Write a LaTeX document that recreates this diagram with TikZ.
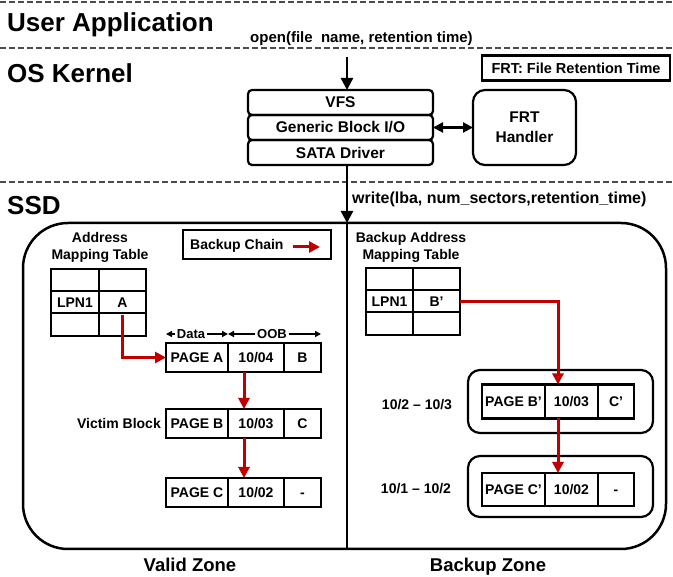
\documentclass[tikz,border=0pt]{standalone}
\usepackage{fontspec}
\setmainfont{Liberation Sans}
\usetikzlibrary{positioning,arrows.meta}
\definecolor{chainred}{HTML}{C00000}
\tikzset{
  zonesep/.style={line width=1.3pt,black!70,dash pattern=on 6pt off 3pt},
  heading/.style={font=\bfseries\fontsize{26}{30}\selectfont,inner sep=0pt},
  lbl/.style={font=\bfseries\fontsize{14}{17}\selectfont,inner sep=0pt},
  cell/.style={draw,line width=2.2pt,inner sep=0pt,outer sep=0pt,text height=10pt,text depth=0pt,
    font=\bfseries\fontsize{14}{17}\selectfont},
  tcell/.style={cell,minimum width=47.5pt,minimum height=22.3pt},
  stack/.style={draw,line width=2.2pt,rounded corners=4pt,minimum width=185pt,minimum height=25pt,
    inner sep=0pt,outer sep=0pt,font=\bfseries\fontsize{15.5}{18}\selectfont},
  rbox/.style={draw,line width=2.2pt,rounded corners=12pt,inner sep=0pt,outer sep=0pt},
  flow/.style={-{Triangle[length=12pt,width=12pt]},line width=2.5pt},
  chainarr/.style={-{Triangle[length=11pt,width=11pt]},line width=3pt,chainred},
  dimarr/.style={-{Triangle[length=6pt,width=6pt]},line width=1.8pt},
}
\begin{document}
\begin{tikzpicture}[x=1pt,y=-1pt]
  \useasboundingbox (0,0) rectangle (673,577);
  % layer separators
  \foreach \yy in {2,48,182} \draw[zonesep] (0,\yy) -- (673,\yy);
  \node[heading,anchor=base west] (ua) at (7,32) {User Application};
  \node[heading,anchor=base west] (osk) at (7,83) {OS Kernel};
  \node[heading,anchor=base west] (ssdl) at (7,215) {SSD};
  \node[lbl,font=\bfseries\fontsize{15}{18}\selectfont,anchor=base west] (opencall) at (250,43)
    {open(file\ \ name, retention time)};

  % kernel stack
  \coordinate (spine) at (347,0);
  \coordinate (opentop) at (347,57);
  \node[stack] (vfs) at (340.5,102.5) {VFS};
  \node[stack,below=0pt of vfs] (gbio) {Generic Block I/O};
  \node[stack,below=0pt of gbio] (sata) {SATA Driver};
  \draw[flow] (opentop) -- (spine |- vfs.north);
  \node[rbox,minimum width=103pt,minimum height=75pt,align=center,
    font=\bfseries\fontsize{15.5}{20}\selectfont] (frth) at (524.5,127.5) {FRT\\Handler};
  \draw[{Triangle[length=10pt,width=10pt]}-{Triangle[length=10pt,width=10pt]},line width=2.2pt]
    (gbio.east) -- (frth.west);
  \node[lbl,draw,line width=2.2pt,minimum width=188pt,minimum height=25pt,
    font=\bfseries\fontsize{14.5}{17}\selectfont] (frtkey) at (576,68) {FRT: File Retention Time};

  % SSD
  \node[draw,line width=2.5pt,rounded corners=45pt,minimum width=643pt,minimum height=326pt,
    outer sep=0pt] (ssd) at (344.5,386) {};
  \draw[flow] (spine |- sata.south) -- (spine |- ssd.north);
  \draw[line width=2.2pt] (spine |- ssd.north) -- (spine |- ssd.south);
  \node[lbl,font=\bfseries\fontsize{16}{18}\selectfont,anchor=base west] (writecall) at (352,204)
    {write(lba, num\_sectors,retention\_time)};

  % valid zone
  \node[lbl,align=center] (amtl) at (100,247.5) {Address\\Mapping Table};
  \foreach \r/\yy in {1/280,3/324.5}
    \foreach \c/\xx in {1/75,2/122.5}
      \node[tcell] (amt\r\c) at (\xx,\yy) {};
  \node[tcell] (amt21) at (75,302.2) {LPN1};
  \node[tcell] (amt22) at (122.5,302.2) {A};

  \node[draw,line width=2.2pt,minimum width=148pt,minimum height=29pt] (bckey) at (257,244.5) {};
  \node[lbl,anchor=base west] (bctxt) at (190,250) {Backup Chain};
  \coordinate (bcs) at (293,247);
  \coordinate (bce) at (320,247);
  \draw[chainarr] (bcs) -- (bce);

  \node[cell,minimum width=62pt,minimum height=29pt] (pa1) at (197,357.5) {PAGE A};
  \node[cell,minimum width=56pt,minimum height=29pt,right=0pt of pa1] (pa2) {10/04};
  \node[cell,minimum width=37pt,minimum height=29pt,right=0pt of pa2] (pa3) {B};
  \node[cell,minimum width=62pt,minimum height=29pt] (pb1) at (197,423.5) {PAGE B};
  \node[cell,minimum width=56pt,minimum height=29pt,right=0pt of pb1] (pb2) {10/03};
  \node[cell,minimum width=37pt,minimum height=29pt,right=0pt of pb2] (pb3) {C};
  \node[cell,minimum width=62pt,minimum height=29pt] (pc1) at (197,492.5) {PAGE C};
  \node[cell,minimum width=56pt,minimum height=29pt,right=0pt of pc1] (pc2) {10/02};
  \node[cell,minimum width=37pt,minimum height=29pt,right=0pt of pc2] (pc3) {-};

  \node[lbl,font=\bfseries\fontsize{13}{15}\selectfont] (datal) at (191,334) {Data};
  \node[lbl,font=\bfseries\fontsize{13}{15}\selectfont] (oobl) at (272,334) {OOB};
  \draw[dimarr,shorten <=1.5pt] (datal.west) -- (datal.west -| pa1.west);
  \draw[dimarr,shorten <=1.5pt] (datal.east) -- (datal.east -| pa1.east);
  \draw[dimarr,shorten <=1.5pt] (oobl.west) -- (oobl.west -| pa2.west);
  \draw[dimarr,shorten <=1.5pt] (oobl.east) -- (oobl.east -| pa3.east);
  \node[lbl,anchor=east] (victim) at (161,423) {Victim Block};

  \coordinate (vchain) at (244,0);
  \draw[chainarr] ([yshift=-1.5pt]amt22.south) |- (pa1.west);
  \draw[chainarr] (vchain |- pa2.south) -- (vchain |- pb2.north);
  \draw[chainarr] (vchain |- pb2.south) -- (vchain |- pc2.north);

  % backup zone
  \node[lbl,align=center] (bamtl) at (411,247.5) {Backup Address\\Mapping Table};
  \foreach \r/\yy in {1/279,3/323.5}
    \foreach \c/\xx in {1/389.5,2/436.5}
      \node[tcell] (bmt\r\c) at (\xx,\yy) {};
  \node[tcell] (bmt21) at (389.5,301.2) {LPN1};
  \node[tcell] (bmt22) at (436.5,301.2) {B’};

  \node[rbox,minimum width=185pt,minimum height=63pt] (bbox1) at (560.5,401.5) {};
  \node[rbox,minimum width=185pt,minimum height=61pt] (bbox2) at (560.5,486.5) {};
  \node[cell,minimum width=63pt,minimum height=34pt] (pbb1) at (513.5,401.5) {PAGE B’};
  \node[cell,minimum width=53pt,minimum height=34pt,right=0pt of pbb1] (pbb2) {10/03};
  \node[cell,minimum width=36pt,minimum height=34pt,right=0pt of pbb2] (pbb3) {C’};
  \node[cell,minimum width=63pt,minimum height=33pt] (pcc1) at (513.5,489.5) {PAGE C’};
  \node[cell,minimum width=53pt,minimum height=33pt,right=0pt of pcc1] (pcc2) {10/02};
  \node[cell,minimum width=36pt,minimum height=33pt,right=0pt of pcc2] (pcc3) {-};
  \node[lbl] (rng1) at (417,405) {10/2 \textendash{} 10/3};
  \node[lbl] (rng2) at (416,489) {10/1 \textendash{} 10/2};

  \coordinate (bchain) at (558,0);
  \draw[chainarr] (bmt22.east) -| (bchain |- pbb2.north);
  \draw[chainarr] (bchain |- pbb2.south) -- (bchain |- pcc2.north);

  \node[lbl,font=\bfseries\fontsize{18.5}{22}\selectfont,anchor=base] (vzone) at (190,572) {Valid Zone};
  \node[lbl,font=\bfseries\fontsize{18.5}{22}\selectfont,anchor=base] (bzone) at (488,572) {Backup Zone};
\end{tikzpicture}
\end{document}
